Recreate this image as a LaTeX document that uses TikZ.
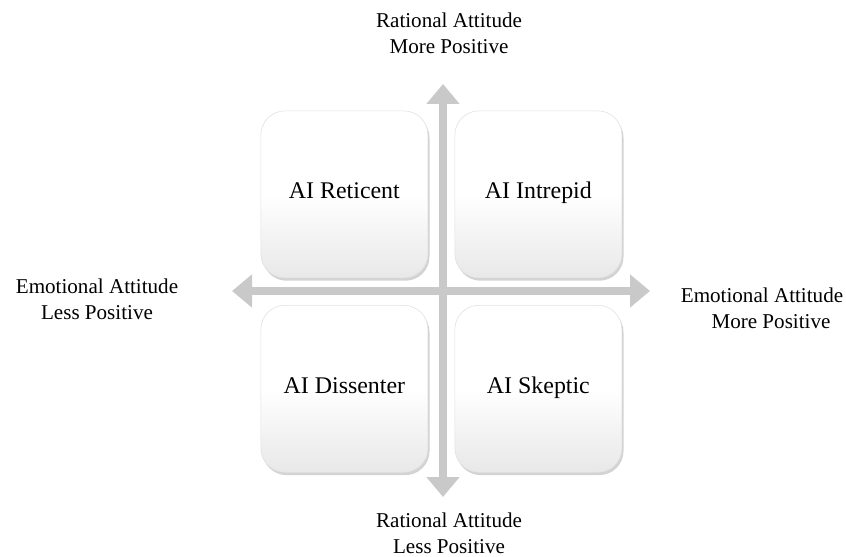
\documentclass[tikz,border=0pt]{standalone}
\usepackage{fontspec}
\setmainfont{Liberation Serif}
\usetikzlibrary{arrows.meta,shadows}

\begin{document}
\begin{tikzpicture}[
    quad/.style={draw=black!12,line width=0.4pt,rounded corners=0.6cm,minimum width=4.175cm,minimum height=4.175cm,
        top color=white,bottom color=black!9,middle color=white,
        drop shadow={shadow xshift=0.04cm,shadow yshift=-0.07cm,opacity=0.35},
        text height=0.7em,text depth=0.05em,
        font=\fontsize{17}{20}\selectfont},
    axis/.style={draw=black!21,line width=0.2cm,{Triangle[width=0.8cm,length=0.5cm]}-{Triangle[width=0.8cm,length=0.5cm]}},
    lab/.style={align=center,font=\fontsize{15}{18.5}\selectfont}
]
    \useasboundingbox (0,0) rectangle (21.15,13.9);
    % the four groups
    \node[quad] (reticent) at (8.61,9.04) {AI Reticent};
    \node[quad] (intrepid) at (13.46,9.04) {AI Intrepid};
    \node[quad] (dissenter) at (8.61,4.18) {AI Dissenter};
    \node[quad] (skeptic) at (13.46,4.18) {AI Skeptic};

    % axes
    \coordinate (top) at (11.075,11.8);
    \coordinate (bottom) at (11.075,1.475);
    \coordinate (left) at (5.8,6.625);
    \coordinate (right) at (16.25,6.625);
    \draw[axis] (bottom) -- (top);
    \draw[axis] (left) -- (right);

    \node[lab] (ratmore) at (11.225,13.075) {Rational Attitude\\More Positive};
    \node[lab] (ratless) at (11.225,0.575) {Rational Attitude\\Less Positive};
    \node[lab] (emoless) at (2.425,6.425) {Emotional Attitude\\Less Positive};
    \node[lab] (emomore) at (19.05,6.2) {Emotional Attitude\\\hspace*{0.45cm}More Positive};
\end{tikzpicture}
\end{document}
